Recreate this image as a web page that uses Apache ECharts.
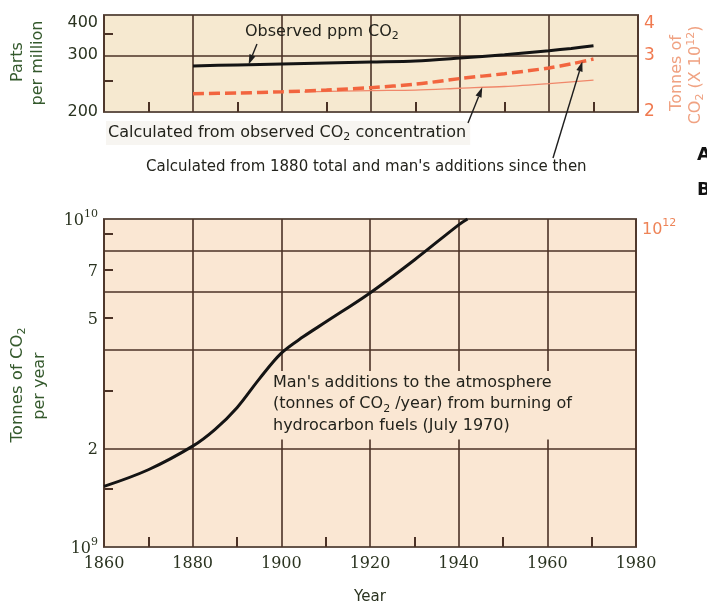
<!DOCTYPE html>
<html><head><meta charset="utf-8">
<script src="https://cdn.jsdelivr.net/npm/echarts@6/dist/echarts.min.js"></script>
<style>html,body{margin:0;padding:0;background:#fff}#c{width:707px;height:603px}</style>
</head><body><div id="c"></div>
<script>
// ---- data ----
const observedYears = [1880, 1890, 1900, 1910, 1920, 1930, 1940, 1950, 1960, 1965, 1970];
const observedPpm   = [278, 280, 282, 284, 286, 288, 294, 301, 310, 315, 321];
const calcAddYears  = [1880, 1890, 1900, 1910, 1920, 1930, 1940, 1950, 1960, 1965, 1970];
const calcAddTonnes = [2.28, 2.29, 2.31, 2.34, 2.38, 2.44, 2.54, 2.63, 2.74, 2.82, 2.92];
const calcObsYears  = [1905, 1920, 1930, 1940, 1950, 1960, 1970];
const calcObsTonnes = [2.31, 2.33, 2.34, 2.37, 2.40, 2.45, 2.51];
const emissionYears  = [1860, 1870, 1880, 1885, 1890, 1895, 1900, 1905, 1910, 1920, 1930, 1940, 1942];
const emissionTonnes = [1.53e9, 1.72e9, 2.03e9, 2.28e9, 2.66e9, 3.25e9, 3.9e9, 4.38e9, 4.85e9, 5.95e9, 7.5e9, 9.6e9, 1.0e10];
const ppmLabels = [200, 300, 400];
const ppmGrid = [300];
const ppmMinorTicks = [250, 350];
const tonnesTopLabels = [2, 3, 4];
const rateLabels = [1e9, 2e9, 5e9, 7e9, 1e10];
const rateGrid = [2e9, 4e9, 6e9, 8e9];
const rateMinorTicks = [1.5e9, 3e9, 5e9, 7e9, 9e9];
const rightBottomLabels = [1e10];

const zip = (a, b) => a.map((v, i) => [v, b[i]]);

const GRID = '#4b3226', BORDER = '#65554a', DARK = '#2a3320', GREEN = '#34592c', SALMON = '#f07a50', SALMON2 = '#f0a282';
const RED = '#f2653f';

const chart = echarts.init(document.getElementById('c'), null, {renderer: 'canvas'});

const xBase = (gi) => ({
  gridIndex: gi, type: 'value', min: 1860, max: 1980, interval: 20,
  axisLine: {show: false},
  axisTick: {show: false, inside: true},
  minorTick: {show: true, splitNumber: 2, length: 10, lineStyle: {color: GRID, width: 2}},
  splitLine: {show: true, lineStyle: {color: GRID, width: 1.6}},
  minorSplitLine: {show: false}
});

const option = {
  animation: false,
  backgroundColor: '#fff',
  grid: [
    {left: 104, top: 15, width: 534, height: 97, show: true, backgroundColor: '#f6e9d0', borderColor: BORDER, borderWidth: 2, containLabel: false, outerBoundsMode: 'none'},
    {left: 104, top: 219, width: 532, height: 328, show: true, backgroundColor: '#fae7d3', borderColor: BORDER, borderWidth: 2, containLabel: false, outerBoundsMode: 'none'}
  ],
  xAxis: [
    Object.assign(xBase(0), {axisLabel: {show: false}}),
    Object.assign(xBase(1), {
      axisLabel: {show: true, margin: 9, fontFamily: 'DejaVu Serif', fontSize: 16, color: DARK, formatter: v => String(v)},
      name: 'Year', nameLocation: 'middle', nameGap: 43,
      nameTextStyle: {fontFamily: 'DejaVu Sans', fontSize: 15, color: DARK}
    })
  ],
  yAxis: [
    {gridIndex: 0, type: 'log', logBase: 10, min: 200, max: 400, position: 'left',
     axisLine: {show: false},
     axisTick: {show: false, customValues: ppmGrid},
     splitLine: {show: true, lineStyle: {color: GRID, width: 1.6}},
     axisLabel: {customValues: ppmLabels, margin: 6, fontFamily: 'DejaVu Sans', fontSize: 16, color: DARK,
                 verticalAlignMaxLabel: 'top'}},
    {gridIndex: 0, type: 'log', logBase: 10, min: 200, max: 400, position: 'left', offset: 0,
     axisLine: {show: false},
     axisTick: {show: true, inside: true, length: 9, customValues: ppmMinorTicks, lineStyle: {color: GRID, width: 2}},
     splitLine: {show: false}, axisLabel: {show: false}},
    {gridIndex: 0, type: 'log', logBase: 10, min: 2, max: 4, position: 'right',
     axisLine: {show: false},
     axisTick: {show: false, customValues: tonnesTopLabels},
     splitLine: {show: false},
     axisLabel: {customValues: tonnesTopLabels, margin: 6, fontFamily: 'DejaVu Sans', fontSize: 17, color: SALMON,
                 verticalAlignMaxLabel: 'top'}},
    {gridIndex: 1, type: 'log', logBase: 10, min: 1e9, max: 1e10, position: 'left',
     axisLine: {show: false},
     axisTick: {show: false, customValues: rateGrid},
     splitLine: {show: true, lineStyle: {color: GRID, width: 1.6}},
     axisLabel: {customValues: rateLabels, margin: 6,
       formatter: v => v === 1e9 ? '{b|10}{p|9}' : (v === 1e10 ? '{b|10}{p|10}' : '{b|' + Math.round(v / 1e9) + '}'),
       rich: {b: {fontFamily: 'DejaVu Serif', fontSize: 16, color: DARK, lineHeight: 20, verticalAlign: 'bottom'},
              p: {fontFamily: 'DejaVu Serif', fontSize: 11, color: DARK, lineHeight: 11, verticalAlign: 'top'}}}},
    {gridIndex: 1, type: 'log', logBase: 10, min: 1e9, max: 1e10, position: 'left', offset: 0,
     axisLine: {show: false},
     axisTick: {show: true, inside: true, length: 9, customValues: rateMinorTicks, lineStyle: {color: GRID, width: 2}},
     splitLine: {show: false}, axisLabel: {show: false}},
    {gridIndex: 1, type: 'log', logBase: 10, min: 1e9, max: 1e10, position: 'right',
     axisLine: {show: false},
     axisTick: {show: false, customValues: rightBottomLabels},
     splitLine: {show: false},
     axisLabel: {customValues: rightBottomLabels, margin: 6, padding: [18, 0, 0, 0],
       formatter: () => '{b|10}{p|12}',
       rich: {b: {fontFamily: 'DejaVu Sans', fontSize: 16, color: '#ee8458', lineHeight: 20, verticalAlign: 'bottom'},
              p: {fontFamily: 'DejaVu Sans', fontSize: 11, color: '#ee8458', lineHeight: 11, verticalAlign: 'top'}}}}
  ],
  series: [
    {name: 'Observed ppm', type: 'line', xAxisIndex: 0, yAxisIndex: 0, data: zip(observedYears, observedPpm),
     showSymbol: false, smooth: 0.3, lineStyle: {color: '#141414', width: 3}, z: 5},
    {name: 'Calc from 1880', type: 'line', xAxisIndex: 0, yAxisIndex: 2, data: zip(calcAddYears, calcAddTonnes),
     showSymbol: false, smooth: 0.3, lineStyle: {color: RED, width: 3.5, type: [11, 5]}, z: 4},
    {name: 'Calc from observed', type: 'line', xAxisIndex: 0, yAxisIndex: 2, data: zip(calcObsYears, calcObsTonnes),
     showSymbol: false, smooth: 0.3, lineStyle: {color: '#f0876a', width: 1.3}, z: 3},
    {name: 'Emissions', type: 'line', xAxisIndex: 1, yAxisIndex: 3, data: zip(emissionYears, emissionTonnes),
     showSymbol: false, smooth: 0.35, lineStyle: {color: '#141414', width: 3}, z: 5}
  ]
};
chart.setOption(option);

// ---- annotations ----
function arrow(tail, tip) {
  const dx = tip[0] - tail[0], dy = tip[1] - tail[1];
  const L = Math.hypot(dx, dy), ux = dx / L, uy = dy / L;
  const hl = 10, hw = 3.2;
  const bx = tip[0] - ux * hl, by = tip[1] - uy * hl;
  return [
    {type: 'line', z: 100, shape: {x1: tail[0], y1: tail[1], x2: bx, y2: by}, style: {stroke: '#1e1e1e', lineWidth: 1.4}},
    {type: 'polygon', z: 100, shape: {points: [[tip[0], tip[1]], [bx - uy * hw, by + ux * hw], [bx + uy * hw, by - ux * hw]]}, style: {fill: '#1e1e1e'}}
  ];
}
const tipObs = chart.convertToPixel({seriesIndex: 0}, [1892.5, 281]);
const tipThin = chart.convertToPixel({seriesIndex: 2}, [1945, 2.385]);
const tipDash = chart.convertToPixel({seriesIndex: 1}, [1967.5, 2.87]);

const annFont = {fontFamily: 'DejaVu Sans', fontSize: 16, fill: '#23231c'};
const subFont = {fontFamily: 'DejaVu Sans', fontSize: 11, fill: '#23231c', lineHeight: 11, verticalAlign: 'bottom'};

const titleStyle = (txt, color, size) => ({text: txt, fontFamily: 'DejaVu Sans', fontSize: size, fill: color, align: 'center', verticalAlign: 'middle'});

const elements = [
  {type: 'text', z: 100, x: 18, y: 62, rotation: Math.PI / 2, style: titleStyle('Parts', GREEN, 16)},
  {type: 'text', z: 100, x: 38, y: 63, rotation: Math.PI / 2, style: titleStyle('per million', GREEN, 16)},
  {type: 'text', z: 100, x: 677, y: 73, rotation: Math.PI / 2, style: titleStyle('Tonnes of', SALMON2, 16)},
  {type: 'text', z: 100, x: 696, y: 75, rotation: Math.PI / 2,
   style: {text: '{a|CO}{s|2}{a| (X 10}{p|12}{a|)}', align: 'center', verticalAlign: 'middle',
     rich: {a: {fontFamily: 'DejaVu Sans', fontSize: 16, fill: SALMON2, lineHeight: 20},
            s: {fontFamily: 'DejaVu Sans', fontSize: 11, fill: SALMON2, lineHeight: 11, verticalAlign: 'bottom'},
            p: {fontFamily: 'DejaVu Sans', fontSize: 11, fill: SALMON2, lineHeight: 11, verticalAlign: 'top'}}}},
  {type: 'text', z: 100, x: 18, y: 385, rotation: Math.PI / 2,
   style: {text: '{a|Tonnes of CO}{s|2}', align: 'center', verticalAlign: 'middle',
     rich: {a: {fontFamily: 'DejaVu Sans', fontSize: 16.5, fill: GREEN, lineHeight: 20},
            s: {fontFamily: 'DejaVu Sans', fontSize: 11, fill: GREEN, lineHeight: 11, verticalAlign: 'bottom'}}}},
  {type: 'text', z: 100, x: 40, y: 386, rotation: Math.PI / 2, style: titleStyle('per year', GREEN, 16)},
  {type: 'text', z: 100, x: 245, y: 32,
   style: {text: '{a|Observed ppm CO}{s|2}', align: 'left', verticalAlign: 'middle',
     rich: {a: Object.assign({lineHeight: 20}, annFont), s: subFont}}},
  {type: 'text', z: 100, x: 106, y: 133,
   style: {text: '{a|Calculated from observed CO}{s|2}{a| concentration}', align: 'left', verticalAlign: 'middle',
     backgroundColor: '#f7f5f1', padding: [2, 4, 2, 2],
     rich: {a: Object.assign({lineHeight: 20}, annFont), s: subFont}}},
  {type: 'text', z: 100, x: 146, y: 167,
   style: {text: "Calculated from 1880 total and man's additions since then", align: 'left', verticalAlign: 'middle',
     fontFamily: 'DejaVu Sans', fontSize: 15, fill: '#23231c'}},
  {type: 'text', z: 100, x: 697, y: 155, style: {text: 'A', fontFamily: 'DejaVu Sans', fontWeight: 'bold', fontSize: 18, fill: '#111', align: 'left', verticalAlign: 'middle'}},
  {type: 'text', z: 100, x: 697, y: 190, style: {text: 'B', fontFamily: 'DejaVu Sans', fontWeight: 'bold', fontSize: 18, fill: '#111', align: 'left', verticalAlign: 'middle'}},
  {type: 'text', z: 100, x: 268, y: 371,
   style: {text: "{a|Man's additions to the atmosphere}\n{a|(tonnes of CO}{s|2}{a| /year) from burning of}\n{a|hydrocarbon fuels (July 1970)}",
     align: 'left', verticalAlign: 'top', backgroundColor: '#fae7d3', padding: [1, 8, 3, 5],
     rich: {a: Object.assign({lineHeight: 21.5}, annFont), s: subFont}}}
];
elements.push(...arrow([257, 44], tipObs));
elements.push(...arrow([468, 123], tipThin));
elements.push(...arrow([553, 158], tipDash));

chart.setOption({graphic: {elements: elements}});
</script>
</body></html>
